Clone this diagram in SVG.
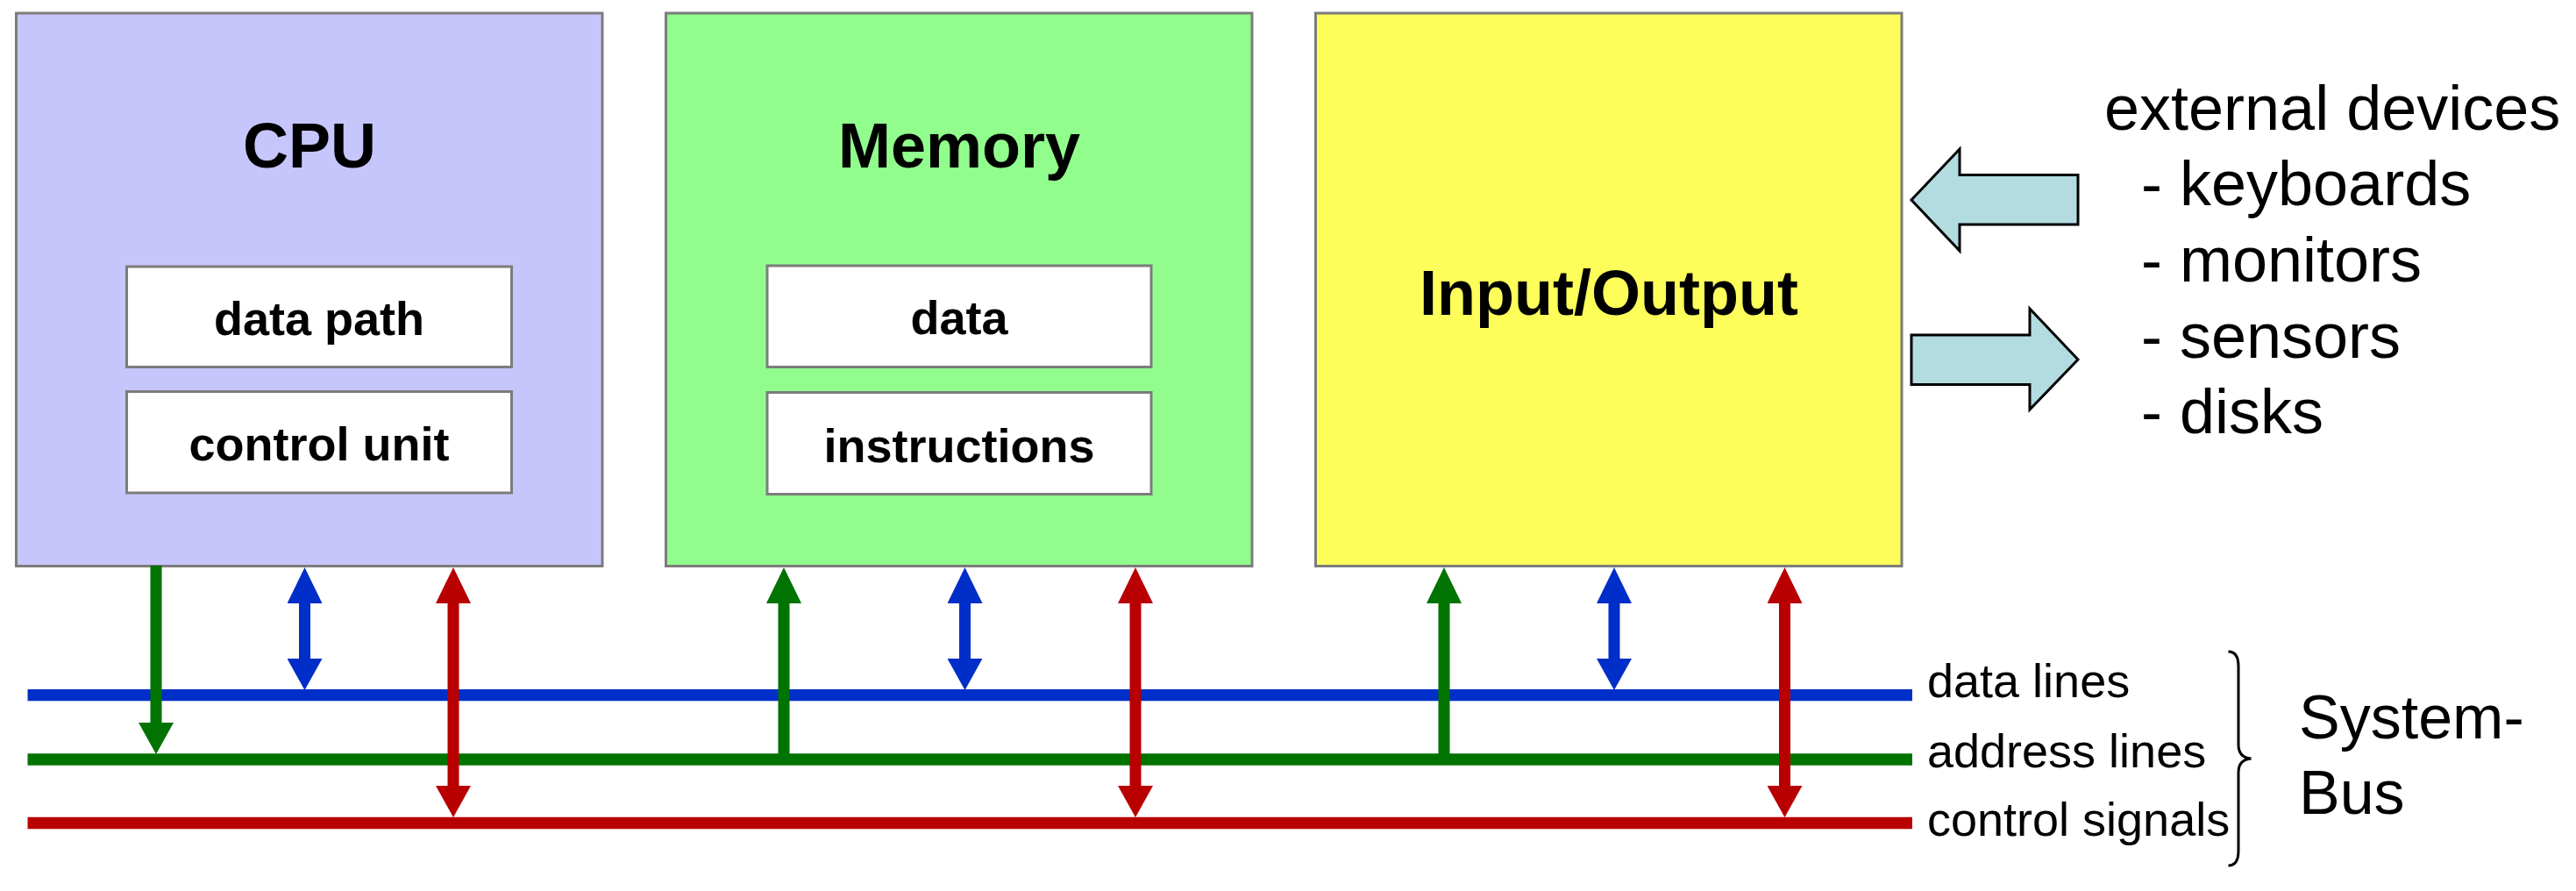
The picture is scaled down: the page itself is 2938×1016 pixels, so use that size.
<svg xmlns="http://www.w3.org/2000/svg" width="2938" height="1016" viewBox="0 0 2938 1016">
<style>
.box{stroke:#7c7c7c;stroke-width:3}
.inner{fill:#ffffff;stroke:#7c7c7c;stroke-width:3}
.title{font-family:"Liberation Sans",Arial,sans-serif;font-weight:bold;font-size:72px;text-anchor:middle;fill:#000}
.sub{font-family:"Liberation Sans",Arial,sans-serif;font-weight:bold;font-size:54px;text-anchor:middle;fill:#000}
.txt{font-family:"Liberation Sans",Arial,sans-serif;font-size:72px;fill:#000}
.leg{font-family:"Liberation Sans",Arial,sans-serif;font-size:54px;fill:#000}
.bus{stroke-width:13.3;fill:none}
.sh{stroke-width:13;fill:none}
.blue{stroke:#002ec8}
.green{stroke:#007300}
.red{stroke:#b90000}
.ext{fill:#b2dcdf;stroke:#000;stroke-width:3;stroke-linejoin:miter}
</style>
<defs>
<marker id="bL" markerUnits="userSpaceOnUse" markerWidth="41" markerHeight="40" viewBox="-1 0 41 40" refX="0" refY="20" orient="auto-start-reverse"><path d="M-1,0 L40,20 L-1,40 Z" fill="#002ec8"/></marker>
<marker id="bS" markerUnits="userSpaceOnUse" markerWidth="36" markerHeight="40" viewBox="-1 0 36 40" refX="0" refY="20" orient="auto-start-reverse"><path d="M-1,0 L35,20 L-1,40 Z" fill="#002ec8"/></marker>
<marker id="gL" markerUnits="userSpaceOnUse" markerWidth="41" markerHeight="40" viewBox="-1 0 41 40" refX="0" refY="20" orient="auto-start-reverse"><path d="M-1,0 L40,20 L-1,40 Z" fill="#007300"/></marker>
<marker id="gS" markerUnits="userSpaceOnUse" markerWidth="36" markerHeight="40" viewBox="-1 0 36 40" refX="0" refY="20" orient="auto-start-reverse"><path d="M-1,0 L35,20 L-1,40 Z" fill="#007300"/></marker>
<marker id="rL" markerUnits="userSpaceOnUse" markerWidth="41" markerHeight="40" viewBox="-1 0 41 40" refX="0" refY="20" orient="auto-start-reverse"><path d="M-1,0 L40,20 L-1,40 Z" fill="#b90000"/></marker>
<marker id="rS" markerUnits="userSpaceOnUse" markerWidth="36" markerHeight="40" viewBox="-1 0 36 40" refX="0" refY="20" orient="auto-start-reverse"><path d="M-1,0 L35,20 L-1,40 Z" fill="#b90000"/></marker>
</defs>
<rect width="2938" height="1016" fill="#ffffff"/>

<g id="cpu">
<rect class="box" x="18.5" y="15" width="668.5" height="630.5" fill="#c6c6fc"/>
<text class="title" x="353" y="191">CPU</text>
<rect class="inner" x="144.5" y="304" width="439" height="114.5"/>
<text class="sub" x="364" y="382">data path</text>
<rect class="inner" x="144.5" y="446.5" width="439" height="115.5"/>
<text class="sub" x="364" y="525">control unit</text>
</g>

<g id="memory">
<rect class="box" x="759.5" y="15" width="668.5" height="630.5" fill="#91fd8d"/>
<text class="title" x="1094" y="191">Memory</text>
<rect class="inner" x="875" y="303" width="438" height="115.5"/>
<text class="sub" x="1094" y="381">data</text>
<rect class="inner" x="875" y="447.5" width="438" height="116"/>
<text class="sub" x="1094" y="527">instructions</text>
</g>

<g id="io">
<rect class="box" x="1500.5" y="15" width="668.5" height="630.5" fill="#fefe5b"/>
<text class="title" x="1835" y="359">Input/Output</text>
</g>

<g id="external">
<polygon class="ext" points="2180,228 2235,170 2235,199.5 2370,199.5 2370,256 2235,256 2235,286"/>
<polygon class="ext" points="2180,382 2315,382 2315,352 2370,410 2315,467 2315,438.5 2180,438.5"/>
<text class="txt" x="2400" y="148">external devices</text>
<text class="txt" x="2442" y="234">- keyboards</text>
<text class="txt" x="2442" y="321">- monitors</text>
<text class="txt" x="2442" y="408">- sensors</text>
<text class="txt" x="2442" y="494">- disks</text>
</g>

<g id="connectors">
<line class="bus blue" x1="31.5" y1="792.7" x2="2181" y2="792.7"/>
<line class="bus green" x1="31.5" y1="866" x2="2181" y2="866"/>
<line class="bus red" x1="31.5" y1="938.5" x2="2181" y2="938.5"/>

<line class="sh green" x1="178" y1="645" x2="178" y2="825" marker-end="url(#gS)"/>
<line class="sh blue" x1="347.5" y1="687" x2="347.5" y2="752" marker-start="url(#bL)" marker-end="url(#bS)"/>
<line class="sh red" x1="517" y1="687" x2="517" y2="897" marker-start="url(#rL)" marker-end="url(#rS)"/>

<line class="sh green" x1="894" y1="866" x2="894" y2="687" marker-end="url(#gL)"/>
<line class="sh blue" x1="1100.5" y1="687" x2="1100.5" y2="752" marker-start="url(#bL)" marker-end="url(#bS)"/>
<line class="sh red" x1="1295" y1="687" x2="1295" y2="897" marker-start="url(#rL)" marker-end="url(#rS)"/>

<line class="sh green" x1="1647" y1="866" x2="1647" y2="687" marker-end="url(#gL)"/>
<line class="sh blue" x1="1841" y1="687" x2="1841" y2="752" marker-start="url(#bL)" marker-end="url(#bS)"/>
<line class="sh red" x1="2035.5" y1="687" x2="2035.5" y2="897" marker-start="url(#rL)" marker-end="url(#rS)"/>
</g>

<g id="legend">
<text class="leg" x="2198" y="795">data lines</text>
<text class="leg" x="2198" y="875">address lines</text>
<text class="leg" x="2198" y="953">control signals</text>
<path d="M2541.5,743 Q2553,743 2553,760 L2553,849 Q2553,864 2567.5,865 Q2553,866 2553,881 L2553,970 Q2553,987 2541.5,987" fill="none" stroke="#000" stroke-width="3"/>
<text class="txt" style="font-size:70px" x="2622" y="842">System-</text>
<text class="txt" style="font-size:70px" x="2622" y="928">Bus</text>
</g>
</svg>
